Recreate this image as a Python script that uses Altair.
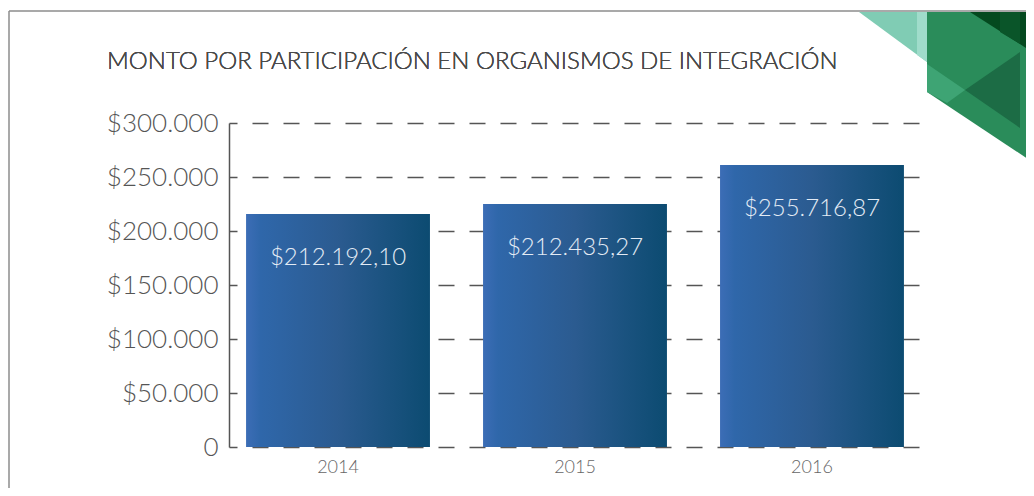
import altair as alt
import pandas as pd

# ---- data ----
years = ["2014", "2015", "2016"]
bar_values = [215700, 225000, 261000]          # bar heights as drawn
bar_labels = ["$212.192,10", "$212.435,27", "$255.716,87"]  # printed labels
y_ticks = [0, 50000, 100000, 150000, 200000, 250000, 300000]
title_text = "MONTO POR PARTICIPACIÓN EN ORGANISMOS DE INTEGRACIÓN"

df = pd.DataFrame({"year": years, "value": bar_values, "label": bar_labels})

FONT = "'Lato Light', Lato"
W, H = 692, 324
OX, OY = 229, 123   # page position of the plot origin

# decorative corner polygons (page coordinates) and fills
deco = [
    ([(859, 12), (927, 12), (927, 62)], "#80ccb4"),
    ([(917, 12), (927, 12), (927, 62), (917, 55)], "#a0dccb"),
    ([(927, 12), (1040, 12), (1040, 167), (927, 92)], "#2a8c5a"),
    ([(927, 64), (965, 90), (947, 103), (927, 92)], "#3ea474"),
    ([(965, 90), (1020, 52), (1020, 128)], "#1c6c45"),
    ([(970, 12), (1040, 12), (1040, 57)], "#04491f"),
    ([(1000, 12), (1020, 12), (1020, 44), (1000, 32)], "#0a5529"),
]

gradient = alt.Gradient(
    gradient="linear",
    stops=[
        alt.GradientStop(color="#3c6db6", offset=0),
        alt.GradientStop(color="#2f67aa", offset=0.08),
        alt.GradientStop(color="#2b5b90", offset=0.5),
        alt.GradientStop(color="#0c4b71", offset=1),
    ],
    x1=0, x2=1, y1=0, y2=0,
)

xenc = alt.X(
    "year:N",
    title=None,
    sort=years,
    scale=alt.Scale(paddingInner=0.224, paddingOuter=0.072),
    axis=alt.Axis(domain=False, ticks=False, labelAngle=0, labelFont=FONT,
                  labelFontSize=18, labelFontWeight=300, labelColor="#666666",
                  labelPadding=11, grid=False),
)
yenc = alt.Y(
    "value:Q",
    title=None,
    scale=alt.Scale(domain=[0, 300000], nice=False),
    axis=alt.Axis(
        values=y_ticks,
        labelExpr="datum.value == 0 ? '0' : '$' + replace(format(datum.value, ','), ',', '.')",
        labelFont=FONT, labelFontSize=26, labelFontWeight=300, labelColor="#555555",
        labelPadding=11, ticks=False,
        domain=True, domainColor="#555555", domainWidth=1.5,
        grid=True, gridColor="#555555", gridWidth=1.5,
        gridDash=[16, 15], gridDashOffset=8,
    ),
)

base = alt.Chart(df)

bars = base.mark_bar(color=gradient).encode(x=xenc, y=yenc)

labels = base.mark_text(
    font=FONT, fontSize=24, fontWeight=300, color="#e3ebf5",
    baseline="middle", dy=44,
).encode(x=alt.X("year:N", sort=years), y="value:Q", text="label:N")

title = base.mark_text(
    font=FONT, fontSize=24, fontWeight=300, color="#4a4a4a",
    align="left", baseline="alphabetic",
).encode(x=alt.value(107 - OX), y=alt.value(69 - OY), text=alt.value(title_text))

deco_layers = []
for pts, col in deco:
    path = "M" + " L".join(f"{x},{y}" for x, y in pts) + " Z"
    deco_layers.append(
        alt.Chart(pd.DataFrame({"k": [0]})).mark_point(
            filled=True, opacity=1, strokeWidth=0, shape=path, color=col, size=4,
        ).encode(x=alt.value(-OX), y=alt.value(-OY))
    )

frame_top = alt.Chart(pd.DataFrame({"k": [0]})).mark_rule(
    color="#8c8c8c", strokeWidth=1.5
).encode(x=alt.value(9 - OX), x2=alt.value(1040 - OX), y=alt.value(11 - OY))
frame_left = alt.Chart(pd.DataFrame({"k": [0]})).mark_rule(
    color="#8c8c8c", strokeWidth=1.5
).encode(x=alt.value(9 - OX), y=alt.value(11 - OY), y2=alt.value(500 - OY))

chart = alt.layer(
    bars, labels, title, *deco_layers, frame_top, frame_left
).properties(
    width=W, height=H,
    background="white",
    padding={"left": OX - 8, "top": OY - 8, "right": 1034 - 8 - OX - W, "bottom": 496 - 8 - OY - H},
    autosize=alt.AutoSizeParams(type="none"),
).configure_view(stroke=None)

chart.save("out.html", embed_options={"renderer": "svg", "actions": False})
